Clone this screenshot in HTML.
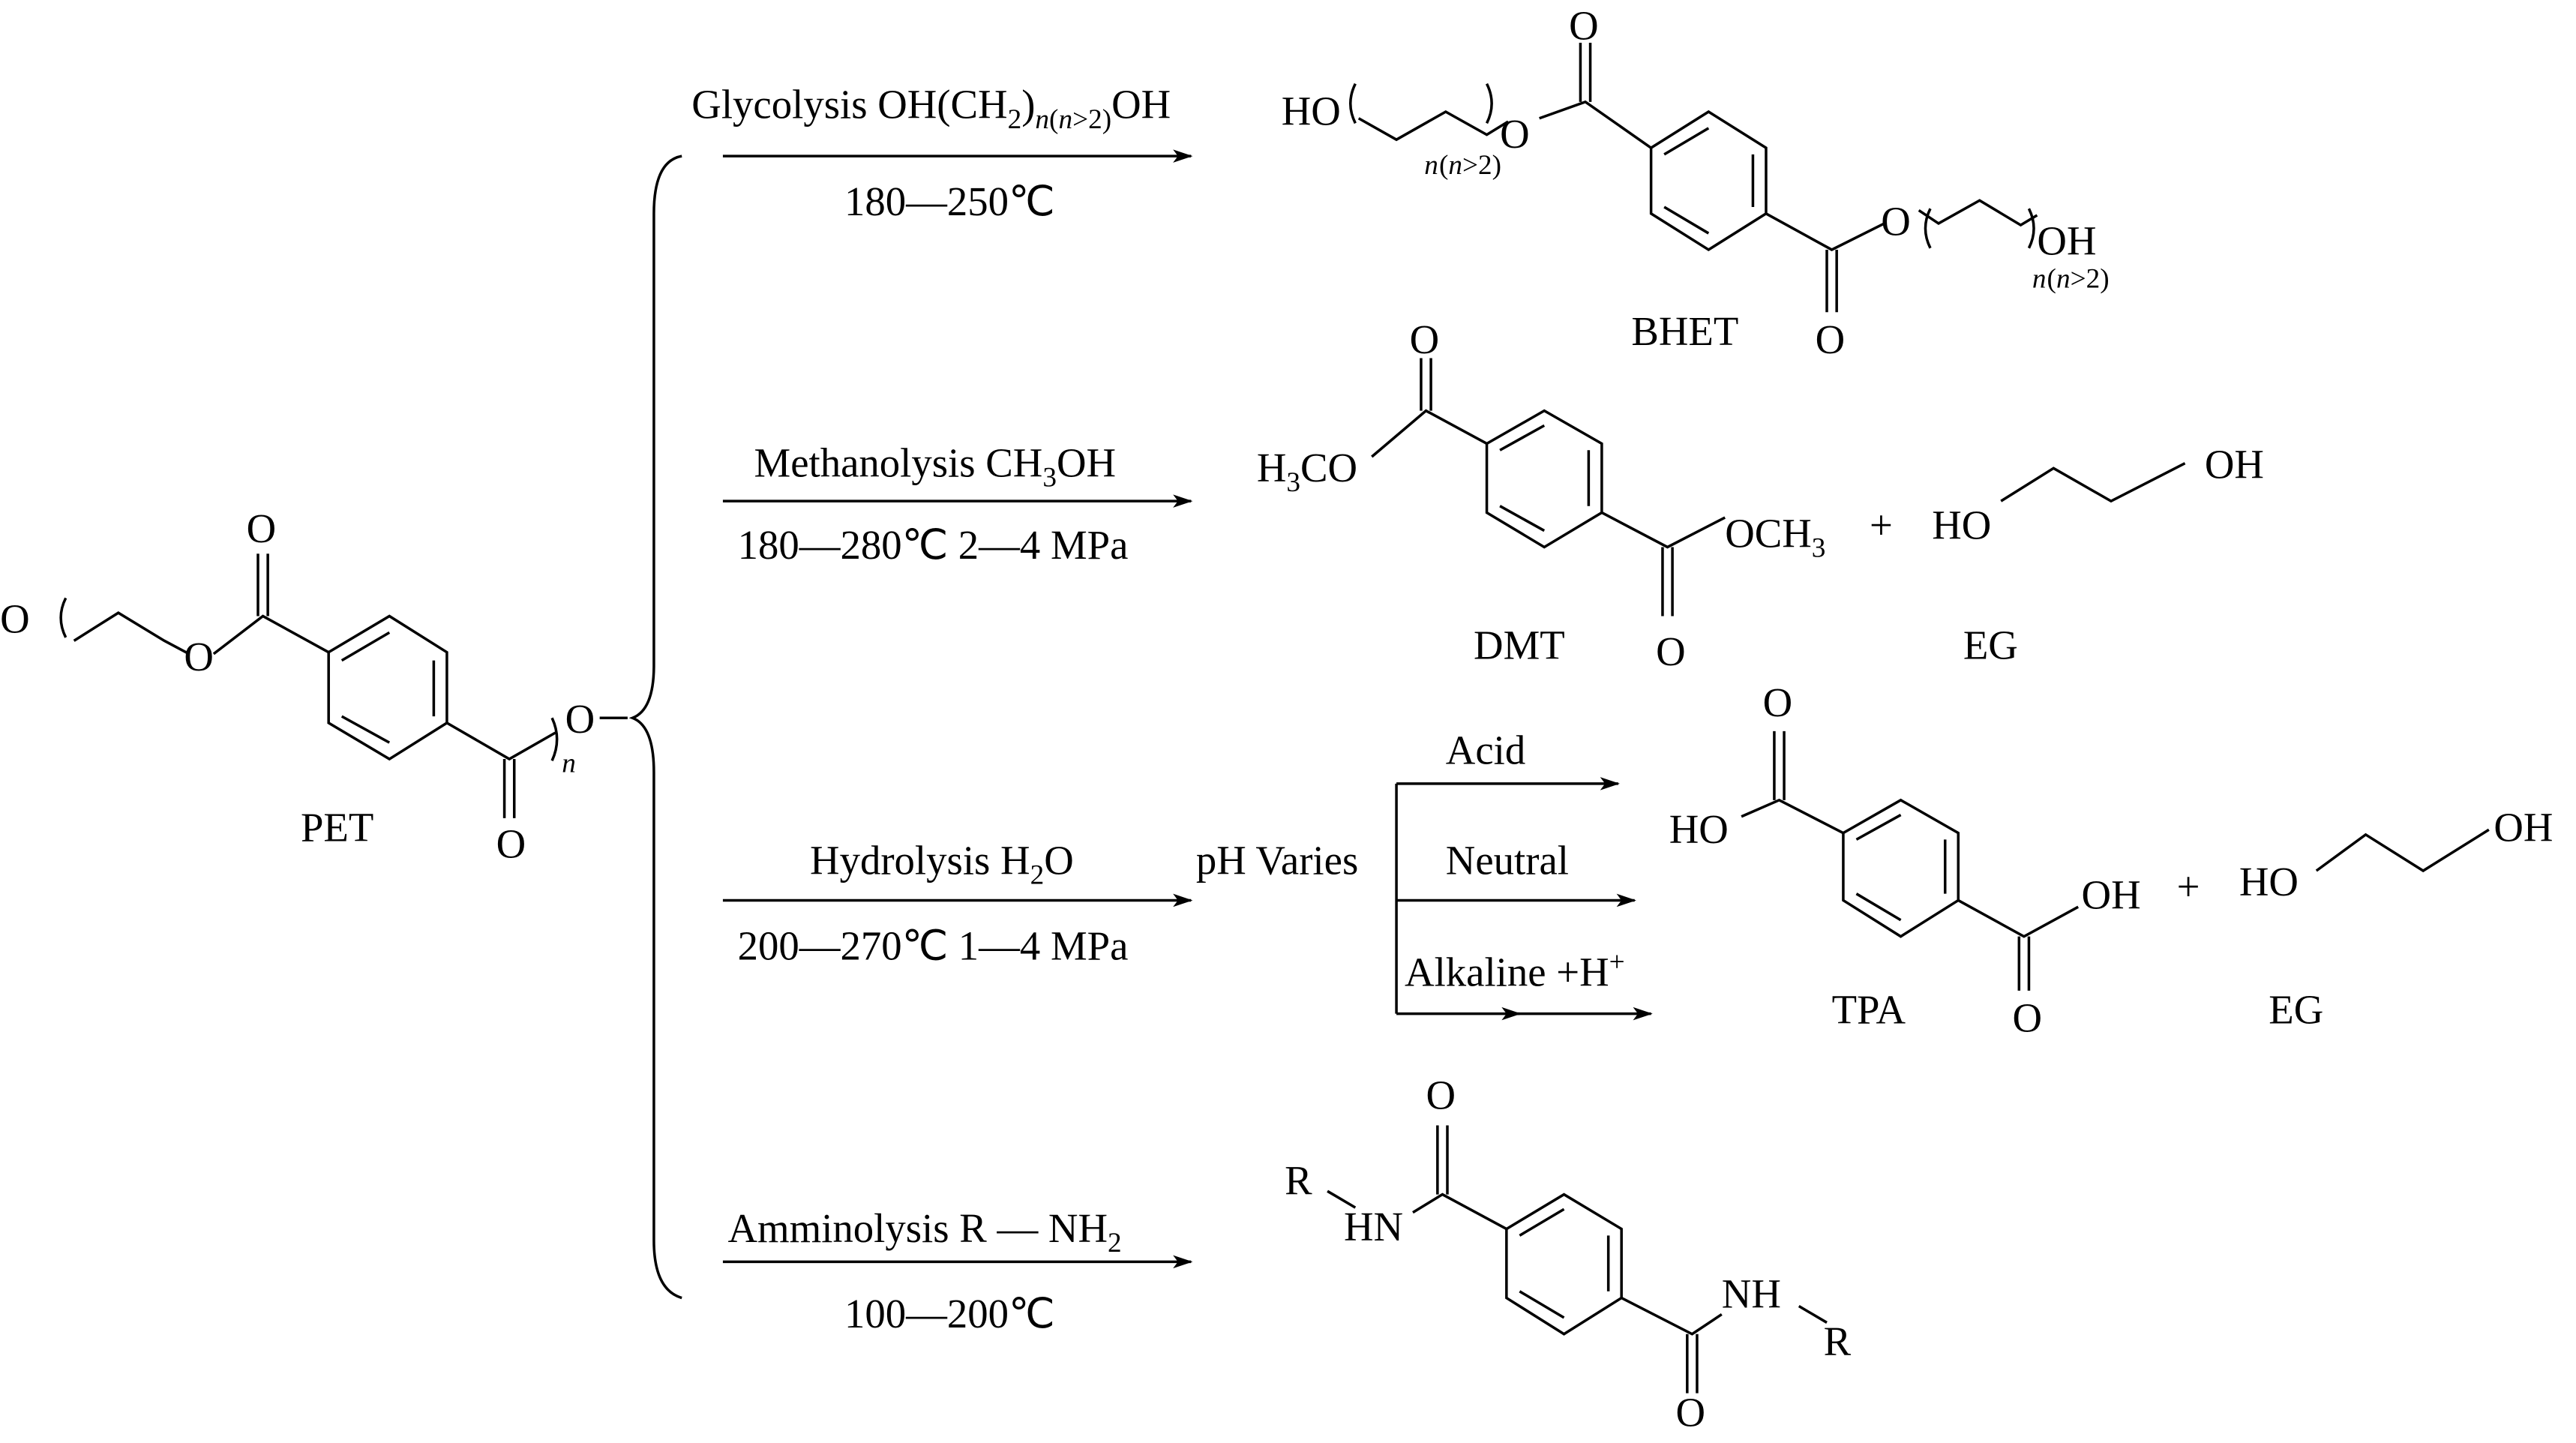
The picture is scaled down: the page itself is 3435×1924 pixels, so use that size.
<!DOCTYPE html>
<html><head><meta charset="utf-8"><style>html,body{margin:0;padding:0;background:#fff}svg{display:block}</style></head>
<body>
<svg width="3435" height="1924" viewBox="0 0 1568 878.3" xmlns="http://www.w3.org/2000/svg" font-family="Liberation Serif, serif" font-size="25" fill="#000">
<defs><marker id="a" markerWidth="12" markerHeight="8" refX="11" refY="4" orient="auto" markerUnits="userSpaceOnUse"><path d="M0,0 L12,4 L0,8 L3,4z" fill="#000"/></marker></defs>
<g stroke="#000" stroke-width="1.6" fill="none">
<path d="M40,388 Q34,376 40,364"/>
<path d="M45,390 L72,373 L100,390 L115,398"/>
<path d="M130,398 L160,375 L200,397"/>
<path d="M157,375 L157,337 M163,375 L163,337"/>
<path d="M200,397 L237,375 L272,397 L272,440 L237,462 L200,440 Z"/>
<path d="M208,402 L237,385 M264,402 L264,436 M237,452 L208,436"/>
<path d="M272,440 L310,462 L338,446"/>
<path d="M307,462 L307,498 M313,462 L313,498"/>
<path d="M336,463 Q342,450 336,437"/>
<path d="M365,437 L382,437"/>
<path d="M415,95 Q398,98 398,130 L398,405 Q398,432 385,437 Q398,442 398,470 L398,755 Q398,785 415,790"/>
<path d="M440,95 L725,95" marker-end="url(#a)"/>
<path d="M440,305 L725,305" marker-end="url(#a)"/>
<path d="M440,548 L725,548" marker-end="url(#a)"/>
<path d="M440,768 L725,768" marker-end="url(#a)"/>
<path d="M850,477 L850,617"/>
<path d="M850,477 L985,477" marker-end="url(#a)"/>
<path d="M850,548 L995,548" marker-end="url(#a)"/>
<path d="M850,617 L925,617" marker-end="url(#a)"/>
<path d="M920,617 L1005,617" marker-end="url(#a)"/>
<path d="M825,75 Q819,63 825,51 M905,75 Q911,63 905,51"/>
<path d="M827,72 L850,85 L880,68 L905,82 L918,74"/>
<path d="M937,72 L965,62 L1005,90"/>
<path d="M962,62 L962,26 M968,62 L968,26"/>
<path d="M1005,90 L1040,68 L1075,90 L1075,130 L1040,152 L1005,130 Z"/>
<path d="M1013,94 L1040,78 M1067,94 L1067,126 M1040,142 L1013,126"/>
<path d="M1075,130 L1115,152 L1147,136"/>
<path d="M1112,152 L1112,190 M1118,152 L1118,190"/>
<path d="M1168,128 L1180,136 L1205,122 L1230,137 L1240,131"/>
<path d="M1175,151 Q1169,139 1175,127 M1235,151 Q1241,139 1235,127"/>
<path d="M835,278 L868,250 L905,270"/>
<path d="M865,250 L865,218 M871,250 L871,218"/>
<path d="M905,270 L940,250 L975,270 L975,312 L940,333 L905,312 Z"/>
<path d="M913,274 L940,259 M967,274 L967,308 M940,323 L913,308"/>
<path d="M975,312 L1015,333 L1050,315"/>
<path d="M1012,333 L1012,375 M1018,333 L1018,375"/>
<path d="M1218,305 L1250,285 L1285,305 L1330,282"/>
<path d="M1060,497 L1083,487 L1122,507"/>
<path d="M1080,487 L1080,445 M1086,487 L1086,445"/>
<path d="M1122,507 L1157,487 L1192,507 L1192,548 L1157,570 L1122,548 Z"/>
<path d="M1130,511 L1157,496 M1184,511 L1184,544 M1157,560 L1130,544"/>
<path d="M1192,548 L1232,570 L1265,552"/>
<path d="M1229,570 L1229,603 M1235,570 L1235,603"/>
<path d="M1410,530 L1440,508 L1475,530 L1515,505"/>
<path d="M808,725 L825,735"/>
<path d="M860,738 L878,727 L917,748"/>
<path d="M875,727 L875,685 M881,727 L881,685"/>
<path d="M917,748 L952,727 L987,748 L987,790 L952,812 L917,790 Z"/>
<path d="M925,752 L952,736 M979,752 L979,786 M952,802 L925,786"/>
<path d="M987,790 L1030,812 L1048,800"/>
<path d="M1027,812 L1027,848 M1033,812 L1033,848"/>
<path d="M1095,795 L1112,805"/>
</g>
<text x="0" y="385">O</text>
<text x="112" y="408">O</text>
<text x="150" y="330">O</text>
<text x="302" y="522">O</text>
<text x="342" y="470" font-size="17" font-style="italic">n</text>
<text x="344" y="446">O</text>
<text x="183" y="512">PET</text>
<text x="421" y="72">Glycolysis OH(CH<tspan font-size="17" dy="6">2</tspan><tspan dy="-6">)</tspan><tspan font-size="17" font-style="italic" dy="6">n</tspan><tspan font-size="17">(</tspan><tspan font-size="17" font-style="italic">n</tspan><tspan font-size="17">&gt;2)</tspan><tspan dy="-6">OH</tspan></text>
<text x="514" y="131">180—250℃</text>
<text x="459" y="290">Methanolysis CH<tspan font-size="17" dy="6">3</tspan><tspan dy="-6">OH</tspan></text>
<text x="449" y="340">180—280℃ 2—4 MPa</text>
<text x="493" y="532">Hydrolysis H<tspan font-size="17" dy="6">2</tspan><tspan dy="-6">O</tspan></text>
<text x="449" y="584">200—270℃ 1—4 MPa</text>
<text x="728" y="532">pH Varies</text>
<text x="880" y="465">Acid</text>
<text x="880" y="532">Neutral</text>
<text x="855" y="600">Alkaline  +H<tspan font-size="17" dy="-9">+</tspan></text>
<text x="443" y="756">Amminolysis R — NH<tspan font-size="17" dy="6">2</tspan></text>
<text x="514" y="808">100—200℃</text>
<text x="780" y="76">HO</text>
<text x="867" y="106" font-size="17" font-style="italic">n</text><text x="876" y="106" font-size="17">(<tspan font-style="italic">n</tspan>&gt;2)</text>
<text x="913" y="90">O</text>
<text x="955" y="24">O</text>
<text x="1145" y="143">O</text>
<text x="1240" y="155">OH</text>
<text x="1237" y="175" font-size="17" font-style="italic">n</text><text x="1246" y="175" font-size="17">(<tspan font-style="italic">n</tspan>&gt;2)</text>
<text x="1105" y="215">O</text>
<text x="993" y="210">BHET</text>
<text x="765" y="293">H<tspan font-size="17" dy="6">3</tspan><tspan dy="-6">CO</tspan></text>
<text x="858" y="215">O</text>
<text x="1050" y="333">OCH<tspan font-size="17" dy="6">3</tspan></text>
<text x="1008" y="405">O</text>
<text x="897" y="401">DMT</text>
<text x="1138" y="328">+</text>
<text x="1176" y="328">HO</text>
<text x="1342" y="291">OH</text>
<text x="1195" y="401">EG</text>
<text x="1073" y="436">O</text>
<text x="1016" y="513">HO</text>
<text x="1267" y="553">OH</text>
<text x="1225" y="628">O</text>
<text x="1115" y="623">TPA</text>
<text x="1325" y="548">+</text>
<text x="1363" y="545">HO</text>
<text x="1518" y="512">OH</text>
<text x="1381" y="623">EG</text>
<text x="868" y="675">O</text>
<text x="782" y="727">R</text>
<text x="818" y="755">HN</text>
<text x="1048" y="796">NH</text>
<text x="1110" y="825">R</text>
<text x="1020" y="868">O</text>
</svg>
</body></html>
